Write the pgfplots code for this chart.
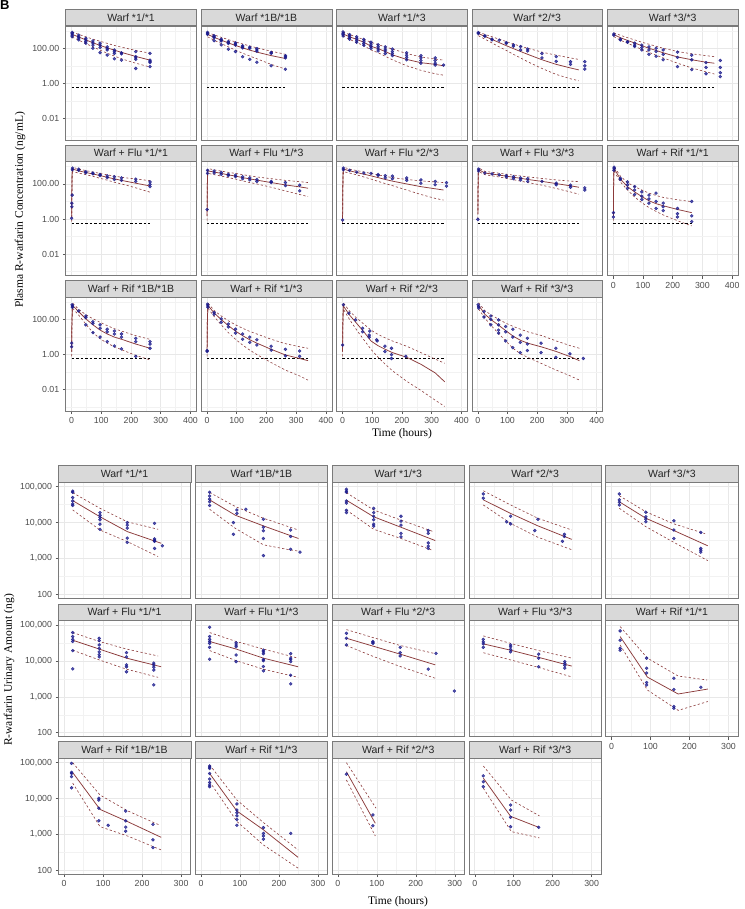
\documentclass[border=0pt]{standalone}
\usepackage{pgfplots}
\pgfplotsset{compat=1.18}
\usepackage{fontspec}
\setmainfont{Liberation Sans}
\newfontfamily\serif{Liberation Serif}
\definecolor{ptblue}{HTML}{1A1A8C}
\definecolor{medc}{HTML}{8B3A3A}
\definecolor{stripfill}{HTML}{D9D9D9}
\definecolor{bord}{HTML}{7A7A7A}
\pgfplotsset{
  myobs/.style={only marks, mark=*, mark size=1.5pt, mark options={draw=ptblue, fill=ptblue, fill opacity=0.75, draw opacity=0.85}},
  mymed/.style={no marks, color=medc, line width=0.75pt},
  mypi/.style={no marks, color=medc, line width=0.6pt, dash pattern=on 2.2pt off 2.2pt},
  mylloq/.style={no marks, color=black, line width=0.6pt, dash pattern=on 2.5pt off 2pt},
}
\newcommand{\TopAx}[4]{\begin{axis}[ymode=log, scale only axis, width=130.8pt, height=114pt,
    xmin=-20, xmax=420, ymin=5.8e-4, ymax=1.86e3,
    xtick={0,100,200,300,400}, minor xtick={50,150,250,350}, xticklabels={0,100,200,300,400},
    ytick={0.01,1,100}, minor ytick={0.001,0.1,10,1000}, yticklabels={0.01,1.00,100.00},
    grid=both,
    axis line style={draw=bord, line width=0.6pt},
    major grid style={draw=black!9, line width=0.55pt},
    minor grid style={draw=black!5, line width=0.35pt},
    tick label style={font=\fontsize{8.8}{10}\selectfont, text=black!70},
    major tick length=2.8pt, minor tick length=0pt,
    tick style={draw=black!65, line width=0.5pt},
    tick align=outside, tick pos=left,
    every axis title shift=0pt,
    title style={at={(0.5,1)}, anchor=south, fill=stripfill, draw=bord, line width=0.6pt, minimum height=16.5pt, minimum width=130.8pt, inner sep=0pt, font=\fontsize{10.5}{12}\selectfont, text=black!85},
    title={#1}, at={(#2pt,#3pt)}, anchor=north west, #4]}
\newcommand{\BotAx}[4]{\begin{axis}[ymode=log, scale only axis, width=132.5pt, height=116pt,
    xmin=-15, xmax=325, ymin=77.4, ymax=1.327e5,
    xtick={0,100,200,300}, minor xtick={50,150,250}, xticklabels={0,100,200,300},
    ytick={100,1000,10000,100000}, minor ytick={316.2,3162,31623}, yticklabels={100,{1,000},{10,000},{100,000}},
    grid=both,
    axis line style={draw=bord, line width=0.6pt},
    major grid style={draw=black!9, line width=0.55pt},
    minor grid style={draw=black!5, line width=0.35pt},
    tick label style={font=\fontsize{8.8}{10}\selectfont, text=black!70},
    major tick length=2.8pt, minor tick length=0pt,
    tick style={draw=black!65, line width=0.5pt},
    tick align=outside, tick pos=left,
    every axis title shift=0pt,
    title style={at={(0.5,1)}, anchor=south, fill=stripfill, draw=bord, line width=0.6pt, minimum height=16.5pt, minimum width=132.5pt, inner sep=0pt, font=\fontsize{10.5}{12}\selectfont, text=black!85},
    title={#1}, at={(#2pt,#3pt)}, anchor=north west, #4]}
\begin{document}
\begin{tikzpicture}
\path[use as bounding box] (0pt,0pt) rectangle (744pt,-909pt);
\node[font=\bfseries\fontsize{13}{13}\selectfont, anchor=north west, inner sep=0pt] at (0pt,0pt) {B};

% ================= TOP PANEL =================
\TopAx{Warf *1/*1}{65.6}{-26}{xmajorticks=false}
\addplot[mylloq] coordinates {(0,0.58)(264,0.58)};
\addplot[myobs] coordinates {(2,800)(2,680)(2,560)(2,450)(24,560)(24,450)(24,380)(24,300)(48,370)(48,300)(48,240)(48,195)(72,260)(72,200)(72,150)(72,100)(96,195)(96,150)(96,110)(96,56)(120,120)(120,95)(120,80)(120,41)(144,80)(144,65)(144,51)(144,25)(168,55)(168,48)(168,21)(216,64)(216,33)(216,28)(216,23)(216,7)(264,51)(264,21)(264,18)(264,15)(264,9)};
\addplot[mymed] coordinates {(2,620)(24,440)(48,300)(72,205)(96,145)(120,105)(144,78)(168,58)(216,34)(264,21)};
\addplot[mypi] coordinates {(2,850)(24,620)(48,450)(72,330)(96,250)(120,190)(144,145)(168,115)(216,75)(264,52)};
\addplot[mypi] coordinates {(2,430)(24,290)(48,185)(72,120)(96,78)(120,52)(144,36)(168,25)(216,14)(264,8.5)};
\end{axis}
\TopAx{Warf *1B/*1B}{201.0}{-26}{xmajorticks=false, ymajorticks=false}
\addplot[mylloq] coordinates {(0,0.58)(264,0.58)};
\addplot[myobs] coordinates {(2,800)(2,700)(2,620)(24,520)(24,460)(24,400)(24,270)(48,330)(48,295)(48,260)(48,155)(72,240)(72,210)(72,185)(72,87)(96,200)(96,178)(96,150)(96,65)(120,140)(120,123)(120,105)(120,33)(144,115)(144,100)(144,23)(168,95)(168,80)(168,68)(168,16)(216,58)(216,51)(216,10)(264,38)(264,33)(264,28)(264,6.3)};
\addplot[mymed] coordinates {(2,620)(24,420)(48,290)(72,200)(96,145)(120,105)(144,78)(168,60)(216,38)(264,26)};
\addplot[mypi] coordinates {(2,800)(24,580)(48,420)(72,310)(96,230)(120,175)(144,135)(168,105)(216,68)(264,45)};
\addplot[mypi] coordinates {(2,450)(24,290)(48,185)(72,120)(96,78)(120,52)(144,36)(168,25)(216,12)(264,6.5)};
\end{axis}
\TopAx{Warf *1/*3}{336.5}{-26}{xmajorticks=false, ymajorticks=false}
\addplot[mylloq] coordinates {(0,0.58)(340,0.58)};
\addplot[myobs] coordinates {(2,850)(2,700)(2,600)(2,500)(24,600)(24,500)(24,400)(24,330)(48,450)(48,350)(48,280)(48,220)(72,320)(72,250)(72,190)(72,150)(96,220)(96,170)(96,130)(96,100)(120,160)(120,120)(120,90)(120,70)(144,120)(144,90)(144,70)(144,50)(168,90)(168,65)(168,50)(168,38)(216,55)(216,40)(216,30)(216,22)(264,38)(264,28)(264,20)(264,14)(312,28)(312,20)(312,14)(312,11)(340,11)};
\addplot[mymed] coordinates {(2,650)(24,450)(48,320)(72,220)(96,130)(120,95)(144,65)(168,42)(216,23)(264,15)(312,12)(340,10)};
\addplot[mypi] coordinates {(2,850)(24,600)(48,430)(72,320)(96,220)(120,160)(144,120)(168,90)(216,50)(264,32)(312,24)(340,21)};
\addplot[mypi] coordinates {(2,500)(24,320)(48,210)(72,140)(96,80)(120,55)(144,35)(168,22)(216,10)(264,5.5)(312,3.5)(340,2.9)};
\end{axis}
\TopAx{Warf *2/*3}{471.8}{-26}{xmajorticks=false, ymajorticks=false}
\addplot[mylloq] coordinates {(0,0.58)(340,0.58)};
\addplot[myobs] coordinates {(2,780)(2,700)(24,520)(24,480)(48,330)(48,300)(72,290)(96,210)(96,190)(120,155)(120,130)(144,125)(144,80)(168,90)(168,70)(216,50)(216,28)(264,33)(264,18)(312,17)(312,12)(360,17)(360,10)(360,6.5)};
\addplot[mymed] coordinates {(2,700)(24,470)(48,320)(72,210)(96,140)(120,95)(144,65)(168,45)(216,22)(264,12)(312,7.5)(340,5.8)};
\addplot[mypi] coordinates {(2,850)(24,620)(48,450)(72,330)(96,240)(120,175)(144,130)(168,100)(216,60)(264,40)(312,28)(340,23)};
\addplot[mypi] coordinates {(2,520)(24,330)(48,200)(72,120)(96,75)(120,45)(144,28)(168,17)(216,7)(264,3.2)(312,1.8)(340,1.4)};
\end{axis}
\TopAx{Warf *3/*3}{607.3}{-26}{xmajorticks=false, ymajorticks=false}
\addplot[mylloq] coordinates {(0,0.58)(340,0.58)};
\addplot[myobs] coordinates {(2,650)(2,560)(24,330)(24,300)(48,240)(48,220)(72,195)(72,150)(72,125)(96,150)(96,110)(96,80)(120,120)(120,80)(120,45)(144,100)(144,65)(144,35)(168,80)(168,45)(168,22)(216,60)(216,30)(216,9)(264,40)(264,22)(264,6)(312,15)(312,8)(312,3.5)(360,20)(360,8)(360,4)(360,2.4)};
\addplot[mymed] coordinates {(2,600)(24,400)(48,280)(72,200)(96,140)(120,100)(144,75)(168,55)(216,32)(264,22)(312,16)(340,14)};
\addplot[mypi] coordinates {(2,750)(24,550)(48,400)(72,300)(96,220)(120,170)(144,130)(168,100)(216,65)(264,48)(312,38)(340,33)};
\addplot[mypi] coordinates {(2,460)(24,290)(48,190)(72,130)(96,85)(120,58)(144,40)(168,28)(216,14)(264,7.5)(312,4.5)(340,3.4)};
\end{axis}
% Row 2
\TopAx{Warf + Flu *1/*1}{65.6}{-161.7}{xmajorticks=false}
\addplot[mylloq] coordinates {(0,0.58)(264,0.58)};
\addplot[myobs] coordinates {(0.5,1.1)(1,5)(1,8)(2,23)(3,650)(3,800)(24,700)(24,600)(48,500)(48,430)(72,420)(72,380)(96,350)(96,300)(120,290)(120,230)(144,260)(144,180)(168,220)(168,160)(216,190)(216,140)(264,130)(264,95)(264,70)};
\addplot[mymed] coordinates {(0.5,1.2)(1,30)(2,400)(4,700)(24,560)(48,450)(72,370)(96,300)(120,240)(144,195)(168,160)(216,110)(264,77)};
\addplot[mypi] coordinates {(0.5,2)(1,60)(2,600)(4,900)(24,700)(48,580)(72,480)(96,400)(120,330)(144,280)(168,240)(216,190)(264,155)};
\addplot[mypi] coordinates {(0.5,0.7)(1,10)(2,200)(4,500)(24,420)(48,340)(72,270)(96,210)(120,165)(144,125)(168,100)(216,60)(264,34)};
\end{axis}
\TopAx{Warf + Flu *1/*3}{201.0}{-161.7}{xmajorticks=false, ymajorticks=false}
\addplot[mylloq] coordinates {(0,0.58)(340,0.58)};
\addplot[myobs] coordinates {(0.5,3.5)(2,600)(2,400)(24,550)(24,420)(48,450)(48,350)(72,360)(72,300)(96,320)(96,260)(120,260)(120,200)(144,220)(144,170)(168,180)(168,140)(216,140)(216,120)(264,120)(264,80)(312,85)(312,40)};
\addplot[mymed] coordinates {(0.5,1.5)(1,40)(2,450)(4,550)(24,480)(48,400)(72,330)(96,280)(120,230)(144,195)(168,165)(216,120)(264,88)(312,68)(340,57)};
\addplot[mypi] coordinates {(0.5,3)(1,80)(2,650)(4,750)(24,640)(48,540)(72,460)(96,400)(120,340)(144,290)(168,250)(216,200)(264,160)(312,135)(340,120)};
\addplot[mypi] coordinates {(0.5,0.8)(1,15)(2,250)(4,400)(24,340)(48,280)(72,230)(96,190)(120,150)(144,120)(168,100)(216,65)(264,40)(312,25)(340,19)};
\end{axis}
\TopAx{Warf + Flu *2/*3}{336.5}{-161.7}{xmajorticks=false, ymajorticks=false}
\addplot[mylloq] coordinates {(0,0.58)(340,0.58)};
\addplot[myobs] coordinates {(0.5,0.87)(3,800)(3,650)(24,600)(48,470)(72,420)(96,400)(120,350)(120,300)(144,300)(144,220)(168,280)(168,200)(216,220)(216,160)(264,170)(264,110)(312,140)(312,90)(350,120)(350,75)};
\addplot[mymed] coordinates {(0.5,1)(1,30)(2,400)(4,700)(24,560)(48,450)(72,360)(96,290)(120,230)(144,180)(168,145)(216,100)(264,70)(312,53)(340,45)};
\addplot[mypi] coordinates {(0.5,2)(1,70)(2,650)(4,900)(24,700)(48,580)(72,480)(96,400)(120,330)(144,270)(168,230)(216,180)(264,150)(312,130)(340,120)};
\addplot[mypi] coordinates {(0.5,0.6)(1,10)(2,200)(4,500)(24,420)(48,330)(72,250)(96,190)(120,140)(144,105)(168,80)(216,45)(264,25)(312,15)(340,12)};
\end{axis}
\TopAx{Warf + Flu *3/*3}{471.8}{-161.7}{xmajorticks=false, ymajorticks=false}
\addplot[mylloq] coordinates {(0,0.58)(340,0.58)};
\addplot[myobs] coordinates {(0.5,0.95)(3,700)(3,550)(24,420)(48,370)(72,330)(96,300)(96,250)(120,260)(120,200)(144,220)(144,170)(168,200)(168,140)(216,140)(264,110)(264,90)(312,85)(312,65)(360,60)(360,45)};
\addplot[mymed] coordinates {(0.5,1.9)(1,40)(2,500)(4,650)(24,420)(48,370)(72,320)(96,280)(120,240)(144,210)(168,180)(216,140)(264,105)(312,78)(340,65)};
\addplot[mypi] coordinates {(0.5,3)(1,80)(2,700)(4,800)(24,520)(48,460)(72,410)(96,360)(120,320)(144,285)(168,255)(216,205)(264,170)(312,145)(340,135)};
\addplot[mypi] coordinates {(0.5,1)(1,15)(2,300)(4,500)(24,340)(48,290)(72,250)(96,210)(120,175)(144,145)(168,120)(216,85)(264,55)(312,35)(340,26)};
\end{axis}
\TopAx{Warf + Rif *1/*1}{607.3}{-161.7}{ymajorticks=false}
\addplot[mylloq] coordinates {(0,0.58)(264,0.58)};
\addplot[myobs] coordinates {(0.5,1.3)(0.5,2.3)(2,600)(3,900)(3,750)(24,210)(24,180)(48,130)(48,90)(48,56)(72,70)(72,45)(72,25)(96,35)(96,20)(96,13)(120,23)(120,14)(120,8)(144,30)(144,10)(144,4)(168,8)(168,5)(168,3)(216,4)(216,2)(216,1.3)(264,10)(264,1.5)(264,0.7)};
\addplot[mymed] coordinates {(0.5,1.5)(1,40)(2,500)(4,700)(24,190)(48,70)(72,35)(96,19)(120,11)(144,7.5)(168,5.7)(216,3.5)(264,2.3)};
\addplot[mypi] coordinates {(0.5,3)(1,80)(2,700)(4,900)(24,280)(48,120)(72,70)(96,45)(120,30)(144,22)(168,17)(216,12.5)(264,9.8)};
\addplot[mypi] coordinates {(0.5,0.8)(1,15)(2,300)(4,500)(24,130)(48,45)(72,18)(96,8.5)(120,4.5)(144,2.7)(168,1.7)(216,0.8)(264,0.4)};
\end{axis}
% Row 3
\TopAx{Warf + Rif *1B/*1B}{65.6}{-297.3}{}
\addplot[mylloq] coordinates {(0,0.58)(264,0.58)};
\addplot[myobs] coordinates {(0.5,2.8)(0.5,4.5)(2,700)(3,600)(3,500)(24,310)(48,160)(48,130)(48,50)(72,75)(72,60)(72,18)(96,50)(96,32)(96,10)(120,28)(120,20)(120,5.5)(144,22)(144,15)(144,3.1)(168,15)(168,10)(168,2.1)(216,8.5)(216,5.5)(216,0.8)(264,5.5)(264,4)(264,2.3)};
\addplot[mymed] coordinates {(0.5,1.5)(1,40)(3,650)(24,280)(48,110)(72,50)(96,25)(120,15)(144,10)(168,7.5)(216,4)(264,2.3)};
\addplot[mypi] coordinates {(0.5,3)(1,80)(3,900)(24,380)(48,190)(72,110)(96,70)(120,45)(144,30)(168,22)(216,12)(264,7.4)};
\addplot[mypi] coordinates {(0.5,0.8)(1,15)(3,450)(24,180)(48,55)(72,18)(96,8)(120,4.5)(144,2.8)(168,1.9)(216,0.9)(264,0.5)};
\end{axis}
\TopAx{Warf + Rif *1/*3}{201.0}{-297.3}{ymajorticks=false}
\addplot[mylloq] coordinates {(0,0.58)(340,0.58)};
\addplot[myobs] coordinates {(0.5,1.5)(0.5,1.7)(2,750)(3,600)(3,500)(24,250)(24,200)(48,110)(48,70)(72,55)(72,38)(96,28)(96,17)(120,15)(120,7.5)(144,10)(144,5)(168,7)(168,3.5)(216,3)(216,1.8)(264,2)(264,0.85)(312,1.6)(312,0.8)};
\addplot[mymed] coordinates {(0.5,1.5)(1,40)(3,650)(24,240)(48,100)(72,45)(96,22)(120,12)(144,7)(168,4.5)(216,2)(264,0.95)(312,0.6)(340,0.45)};
\addplot[mypi] coordinates {(0.5,3)(1,80)(3,900)(24,330)(48,160)(72,85)(96,50)(120,32)(144,21)(168,15)(216,7.5)(264,4.2)(312,2.8)(340,2.3)};
\addplot[mypi] coordinates {(0.5,0.8)(1,15)(3,450)(24,150)(48,50)(72,18)(96,7.5)(120,3.5)(144,1.8)(168,1)(216,0.35)(264,0.13)(312,0.06)(340,0.035)};
\end{axis}
\TopAx{Warf + Rif *2/*3}{336.5}{-297.3}{ymajorticks=false}
\addplot[mylloq] coordinates {(0,0.58)(340,0.58)};
\addplot[myobs] coordinates {(0.5,3.5)(3,700)(22,230)(44,95)(68,32)(68,20)(90,13)(90,10)(92,22)(115,7)(117,6)(143,3)(143,1.5)(165,2.3)(165,1)(165,0.6)(213,0.8)};
\addplot[mymed] coordinates {(0.5,1.5)(1,40)(3,600)(24,180)(48,60)(72,20)(96,6)(120,3.2)(144,2)(168,1.3)(216,0.7)(264,0.28)(312,0.09)(344,0.028)};
\addplot[mypi] coordinates {(0.5,3)(1,80)(3,900)(24,300)(48,120)(72,55)(96,25)(120,14)(144,9)(168,6)(216,3)(264,1.3)(312,0.55)(344,0.32)};
\addplot[mypi] coordinates {(0.5,0.8)(1,15)(3,400)(24,100)(48,25)(72,7)(96,2)(120,0.7)(144,0.28)(168,0.12)(216,0.03)(264,0.009)(312,0.0025)(344,0.0011)};
\end{axis}
\TopAx{Warf + Rif *3/*3}{471.8}{-297.3}{ymajorticks=false}
\addplot[mylloq] coordinates {(0,0.58)(340,0.58)};
\addplot[myobs] coordinates {(1,700)(3,550)(3,450)(21,280)(21,140)(44,160)(44,100)(44,50)(70,95)(70,50)(70,25)(70,17)(94,40)(94,20)(94,6)(118,28)(118,10)(118,2.5)(143,13)(143,5)(143,1.3)(167,8.5)(167,4)(167,1.7)(213,4.5)(213,1.3)(263,2.3)(263,0.7)(310,1.1)(355,0.6)};
\addplot[mymed] coordinates {(3,650)(24,200)(48,90)(72,45)(96,22)(120,11)(144,6.5)(168,4.5)(216,2.7)(264,1.5)(312,0.75)(342,0.45)};
\addplot[mypi] coordinates {(3,900)(24,320)(48,170)(72,100)(96,60)(120,40)(144,28)(168,20)(216,12)(264,6)(312,3.2)(342,2.3)};
\addplot[mypi] coordinates {(3,400)(24,120)(48,40)(72,15)(96,5.5)(120,2.2)(144,1.1)(168,0.7)(216,0.3)(264,0.13)(312,0.06)(342,0.035)};
\end{axis}

% ================= BOTTOM PANEL =================
\BotAx{Warf *1/*1}{58.3}{-482.3}{xmajorticks=false}
\addplot[myobs] coordinates {(22,75000)(22,70000)(22,50000)(22,40000)(22,33000)(22,30000)(92,19000)(92,16000)(92,14000)(92,12000)(92,9000)(92,6500)(162,10000)(162,8500)(162,7000)(162,3700)(162,2800)(232,9500)(232,3500)(232,3200)(232,3000)(232,1900)(252,2250)};
\addplot[mymed] coordinates {(22,41000)(92,14500)(162,5600)(249,2650)};
\addplot[mypi] coordinates {(22,68000)(92,25000)(162,10500)(241,6500)};
\addplot[mypi] coordinates {(22,22500)(92,6200)(162,2950)(241,1130)};
\end{axis}
\BotAx{Warf *1B/*1B}{195.2}{-482.3}{xmajorticks=false, ymajorticks=false}
\addplot[myobs] coordinates {(22,70000)(22,55000)(22,45000)(22,38000)(22,30000)(83,10000)(83,4700)(92,22500)(92,18000)(115,23500)(160,12400)(160,7400)(160,5900)(160,3600)(160,1200)(230,6200)(230,4100)(230,1800)(254,1500)};
\addplot[mymed] coordinates {(22,43000)(88,16000)(160,8100)(250,3600)};
\addplot[mypi] coordinates {(22,69000)(88,28000)(160,13200)(250,6200)};
\addplot[mypi] coordinates {(22,23500)(88,6900)(160,2400)(220,1800)(250,1600)};
\end{axis}
\BotAx{Warf *1/*3}{332.0}{-482.3}{xmajorticks=false, ymajorticks=false}
\addplot[myobs] coordinates {(22,85000)(22,75000)(22,70000)(22,40000)(22,35000)(22,22000)(22,19000)(92,25000)(92,19000)(92,15000)(92,12000)(92,9000)(92,8000)(162,15000)(162,11000)(162,8500)(162,5000)(162,4000)(232,6000)(232,5000)(232,2700)(232,2200)(232,1900)};
\addplot[mymed] coordinates {(22,42000)(92,14500)(162,7400)(250,3150)};
\addplot[mypi] coordinates {(22,68000)(92,22400)(162,11700)(245,5600)};
\addplot[mypi] coordinates {(22,22400)(92,6500)(162,3600)(245,1650)};
\end{axis}
\BotAx{Warf *2/*3}{468.9}{-482.3}{xmajorticks=false, ymajorticks=false}
\addplot[myobs] coordinates {(22,63000)(22,48000)(82,10500)(92,15000)(92,9200)(154,6000)(162,12300)(225,3000)(230,4700)(230,4100)};
\addplot[mymed] coordinates {(22,43000)(92,18000)(162,8100)(249,3400)};
\addplot[mypi] coordinates {(22,77000)(92,31000)(162,13200)(249,6200)};
\addplot[mypi] coordinates {(22,31000)(92,9500)(162,3900)(249,1750)};
\end{axis}
\BotAx{Warf *3/*3}{605.7}{-482.3}{xmajorticks=false, ymajorticks=false}
\addplot[myobs] coordinates {(20,63000)(20,43000)(20,37000)(20,31000)(88,19500)(88,14500)(88,12500)(88,10500)(160,11200)(160,6200)(160,3600)(229,5300)(229,1900)(229,1700)(229,1500)};
\addplot[mymed] coordinates {(20,38000)(88,13200)(160,6000)(247,2250)};
\addplot[mypi] coordinates {(20,56000)(88,20000)(160,9200)(240,4900)};
\addplot[mypi] coordinates {(20,25000)(88,7700)(160,2800)(247,870)};
\end{axis}
% Row 2
\BotAx{Warf + Flu *1/*1}{58.3}{-620.7}{xmajorticks=false}
\addplot[myobs] coordinates {(22,62000)(22,48000)(22,40000)(22,35000)(22,19500)(22,6000)(90,43000)(90,37000)(90,28000)(90,22500)(90,18000)(90,15000)(90,13000)(160,17000)(160,13000)(160,7800)(160,6900)(160,5000)(230,8700)(230,7800)(230,6700)(230,5600)(230,2150)};
\addplot[mymed] coordinates {(22,38000)(90,21500)(160,12000)(249,6900)};
\addplot[mypi] coordinates {(22,62000)(90,35000)(160,21500)(241,13800)};
\addplot[mypi] coordinates {(22,20000)(90,10700)(160,5900)(241,3500)};
\end{axis}
\BotAx{Warf + Flu *1/*3}{195.2}{-620.7}{xmajorticks=false, ymajorticks=false}
\addplot[myobs] coordinates {(22,87000)(22,48000)(22,40000)(22,35000)(22,31000)(22,24000)(22,11200)(90,32000)(90,28000)(90,25000)(90,14700)(90,9600)(160,20000)(160,18000)(160,16000)(160,11000)(160,10200)(160,7000)(160,5300)(230,16000)(230,12000)(230,11000)(230,9600)(230,4000)(230,2300)};
\addplot[mymed] coordinates {(22,35000)(90,21500)(160,12000)(249,6900)};
\addplot[mypi] coordinates {(22,62000)(90,35000)(160,21500)(249,12000)};
\addplot[mypi] coordinates {(22,19500)(90,10200)(160,5900)(249,3500)};
\end{axis}
\BotAx{Warf + Flu *2/*3}{332.0}{-620.7}{xmajorticks=false, ymajorticks=false}
\addplot[myobs] coordinates {(22,59000)(22,43000)(22,28000)(90,35000)(90,33000)(90,31000)(160,24000)(160,17000)(160,13800)(232,5900)(252,16300)(299,1450)};
\addplot[mymed] coordinates {(22,43000)(90,26000)(160,15500)(250,7800)};
\addplot[mypi] coordinates {(22,75000)(90,45000)(160,27000)(250,16000)};
\addplot[mypi] coordinates {(22,27000)(90,13500)(160,7000)(250,3300)};
\end{axis}
\BotAx{Warf + Flu *3/*3}{468.9}{-620.7}{xmajorticks=false, ymajorticks=false}
\addplot[myobs] coordinates {(22,40000)(22,34000)(22,30000)(22,24000)(92,28000)(92,25000)(92,21000)(92,18000)(164,15500)(164,12000)(164,6900)(231,9600)(231,8500)(231,7500)(231,6300)};
\addplot[mymed] coordinates {(22,30000)(92,20000)(164,12600)(249,7200)};
\addplot[mypi] coordinates {(22,50000)(92,31000)(164,19500)(249,12000)};
\addplot[mypi] coordinates {(22,17000)(92,10700)(164,6600)(249,3600)};
\end{axis}
\BotAx{Warf + Rif *1/*1}{605.7}{-620.7}{ymajorticks=false}
\addplot[myobs] coordinates {(22,69000)(22,38000)(22,22500)(22,20000)(90,12000)(90,6300)(90,4600)(90,2500)(90,2150)(160,3300)(160,1600)(160,540)(160,480)(229,1850)};
\addplot[mymed] coordinates {(22,48000)(92,3550)(171,1200)(247,1650)};
\addplot[mypi] coordinates {(22,91000)(92,12000)(171,3800)(245,2950)};
\addplot[mypi] coordinates {(22,28000)(92,1550)(171,420)(247,740)};
\end{axis}
% Row 3
\BotAx{Warf + Rif *1B/*1B}{58.3}{-758.3}{}
\addplot[myobs] coordinates {(19,96000)(19,54000)(19,50000)(19,41000)(19,20000)(89,10200)(89,9100)(89,5400)(89,2400)(113,1800)(158,4500)(158,2400)(158,1600)(158,1230)(228,1900)(228,710)(228,430)};
\addplot[mymed] coordinates {(22,53000)(92,5000)(162,2300)(249,830)};
\addplot[mypi] coordinates {(22,100000)(92,12600)(162,4600)(246,1800)};
\addplot[mypi] coordinates {(22,27000)(92,1650)(162,910)(249,370)};
\end{axis}
\BotAx{Warf + Rif *1/*3}{195.2}{-758.3}{ymajorticks=false}
\addplot[myobs] coordinates {(22,81000)(22,75000)(22,69000)(22,50000)(22,35000)(22,28000)(22,24000)(22,21500)(92,7100)(92,4800)(92,4000)(92,3300)(92,2600)(92,1800)(160,1550)(160,1070)(160,910)(160,740)(230,1070)};
\addplot[mymed] coordinates {(22,50000)(92,4500)(160,1350)(249,230)};
\addplot[mypi] coordinates {(22,87000)(92,9100)(160,2150)(249,370)};
\addplot[mypi] coordinates {(22,29500)(92,2300)(160,510)(249,115)};
\end{axis}
\BotAx{Warf + Rif *2/*3}{332.0}{-758.3}{ymajorticks=false}
\addplot[myobs] coordinates {(22,48000)(90,3500)(90,1750)};
\addplot[mymed] coordinates {(22,56000)(96,2050)};
\addplot[mypi] coordinates {(22,100000)(98,5400)};
\addplot[mypi] coordinates {(22,33000)(96,910)};
\end{axis}
\BotAx{Warf + Rif *3/*3}{468.9}{-758.3}{ymajorticks=false}
\addplot[myobs] coordinates {(22,43000)(22,29500)(22,21500)(92,6600)(92,4800)(92,3000)(92,1650)(164,1580)};
\addplot[mymed] coordinates {(22,37000)(92,3200)(164,1580)};
\addplot[mypi] coordinates {(22,81000)(94,9100)(166,3300)};
\addplot[mypi] coordinates {(22,19500)(94,1200)(166,800)};
\end{axis}

\node[rotate=90, font=\serif\fontsize{11.5}{12}\selectfont] at (20pt,-210pt) {Plasma R-warfarin Concentration (ng/mL)};
\node[font=\serif\fontsize{11.5}{12}\selectfont] at (402pt,-434pt) {Time (hours)};
\node[rotate=90, font=\serif\fontsize{11.5}{12}\selectfont] at (9pt,-670pt) {R-warfarin Urinary Amount (ng)};
\node[font=\serif\fontsize{11.5}{12}\selectfont] at (398pt,-901.5pt) {Time (hours)};
\end{tikzpicture}
\end{document}
